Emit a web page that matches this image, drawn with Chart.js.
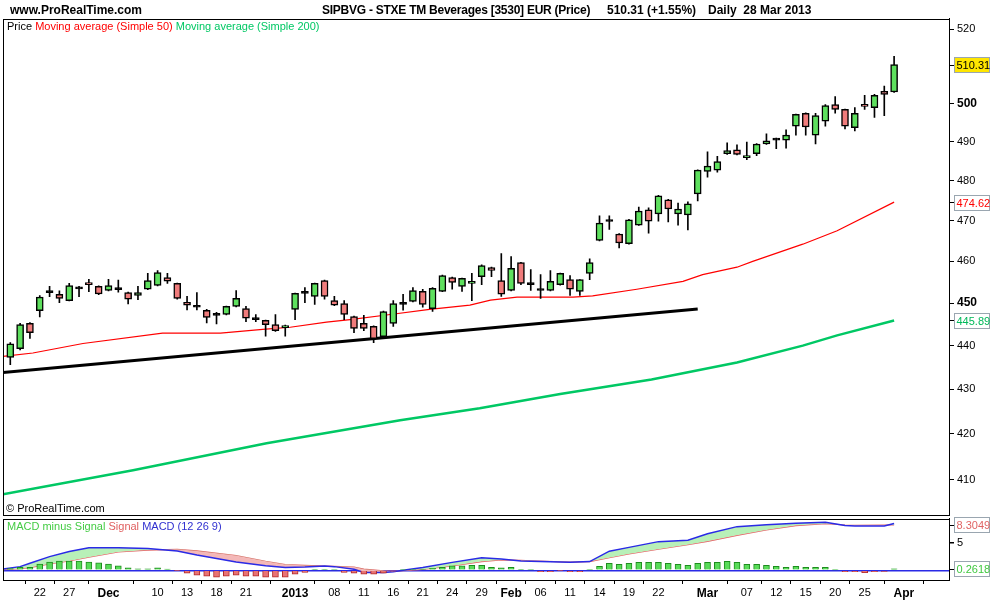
<!DOCTYPE html>
<html><head><meta charset="utf-8">
<script src="https://cdn.jsdelivr.net/npm/chart.js@4.4.1/dist/chart.umd.min.js"></script>
<style>
html,body{margin:0;padding:0;background:#fff;width:1000px;height:600px;overflow:hidden;font-family:'Liberation Sans',Arial,sans-serif;}
#wrap{position:relative;width:1000px;height:600px;}
canvas{position:absolute;left:0;}
.t{position:absolute;white-space:pre;color:#000;line-height:1;}
.b{font-weight:bold;font-size:12px;top:4px;}
.s{font-size:11px;}
</style></head><body>
<div id="wrap">
<canvas id="price" width="1000" height="530" style="top:0"></canvas>
<canvas id="macd" width="1000" height="100" style="top:500px"></canvas>
<div class="t b" style="left:10px">www.ProRealTime.com</div>
<div class="t b" style="left:322px;letter-spacing:-0.25px">SIPBVG - STXE TM Beverages [3530] EUR (Price)</div>
<div class="t b" style="left:607px">510.31 (+1.55%)</div>
<div class="t b" style="left:708px">Daily  28 Mar 2013</div>
<div class="t s" style="left:7px;top:21px"><span>Price</span> <span style="color:#ff0000">Moving average (Simple 50)</span> <span style="color:#00c864">Moving average (Simple 200)</span></div>
<div class="t s" style="left:6px;top:503px">© ProRealTime.com</div>
<div class="t s" style="left:7px;top:521px"><span style="color:#44cc44">MACD minus Signal</span> <span style="color:#e06060">Signal</span> <span style="color:#3030d0">MACD (12 26 9)</span></div>
</div>
<script>
// ---- categories (trading days) ----
const dates = ['19 Nov','20 Nov','21 Nov','22 Nov','23 Nov','26 Nov','27 Nov','28 Nov','29 Nov','30 Nov',
'03 Dec','04 Dec','05 Dec','06 Dec','07 Dec','10 Dec','11 Dec','12 Dec','13 Dec','14 Dec','17 Dec','18 Dec','19 Dec','20 Dec','21 Dec','24 Dec','27 Dec','28 Dec','31 Dec',
'02 Jan','03 Jan','04 Jan','07 Jan','08 Jan','09 Jan','10 Jan','11 Jan','14 Jan','15 Jan','16 Jan','17 Jan','18 Jan','21 Jan','22 Jan','23 Jan','24 Jan','25 Jan','28 Jan','29 Jan','30 Jan','31 Jan',
'01 Feb','04 Feb','05 Feb','06 Feb','07 Feb','08 Feb','11 Feb','12 Feb','13 Feb','14 Feb','15 Feb','18 Feb','19 Feb','20 Feb','21 Feb','22 Feb','25 Feb','26 Feb','27 Feb','28 Feb',
'01 Mar','04 Mar','05 Mar','06 Mar','07 Mar','08 Mar','11 Mar','12 Mar','13 Mar','14 Mar','15 Mar','18 Mar','19 Mar','20 Mar','21 Mar','22 Mar','25 Mar','26 Mar','27 Mar','28 Mar'];

// ---- price series ----
const openP = [437.3,439.3,445.2,448.2,452.5,452.1,450.6,453.4,454.9,454.0,
453.0,453.2,452.5,451.8,453.3,454.2,456.1,454.7,450.2,449.0,
448.3,447.1,447.3,449.2,448.7,446.1,445.9,444.9,444.2,448.5,
452.3,451.6,455.4,450.6,449.9,446.8,445.2,444.5,442.1,445.2,
449.7,450.4,452.8,448.7,452.8,456.1,454.0,454.7,456.3,458.5,
455.4,453.0,459.7,454.4,453.0,453.0,454.4,455.6,452.8,457.1,
465.1,469.8,466.7,464.3,468.9,472.7,471.7,475.2,471.7,471.4,
476.7,482.4,482.7,486.9,487.9,485.9,486.9,489.4,490.4,490.4,
494.0,497.4,491.7,495.3,499.7,498.4,493.6,499.7,498.9,503.2,
503.0];
const highP = [440.7,445.2,445.4,451.8,454.0,452.9,454.7,454.0,455.7,454.1,
455.7,455.5,452.6,454.0,457.1,457.8,457.1,454.8,451.6,452.5,
448.5,447.8,449.3,453.0,449.2,447.3,446.0,447.3,444.8,452.4,
453.7,454.8,455.5,451.6,450.6,446.9,447.1,444.6,448.1,450.6,
452.1,453.7,453.3,453.7,456.7,456.2,456.0,457.1,459.2,458.6,
461.9,461.2,459.8,458.0,456.8,457.8,457.2,456.6,455.6,460.6,
471.2,471.2,466.8,470.3,473.4,473.2,476.3,475.3,474.4,474.7,
482.8,487.4,486.2,489.7,489.2,489.9,489.5,492.0,490.9,493.1,
497.2,497.5,497.4,499.7,501.8,498.5,498.9,502.1,502.4,504.6,
512.6];
const lowP = [435.6,439.0,441.7,446.7,451.5,450.1,450.5,451.5,452.7,452.0,
452.9,452.6,449.8,450.8,453.2,454.1,454.7,450.9,448.4,448.4,
445.3,445.1,447.2,449.1,445.6,445.6,442.2,443.3,442.2,446.1,
450.1,449.7,450.9,449.4,446.1,443.0,443.5,440.7,441.8,444.5,
448.3,450.3,449.0,448.0,452.7,453.3,452.8,450.6,454.4,456.3,
451.6,452.9,454.4,453.0,451.1,452.9,454.3,451.8,451.8,455.6,
465.0,467.8,463.3,464.2,468.8,466.9,469.9,469.7,468.9,467.7,
474.9,480.9,482.2,486.7,486.6,485.4,486.4,489.3,488.2,488.3,
491.7,491.7,489.4,494.0,497.4,493.3,492.8,498.4,496.3,496.8,
502.9];
const closeP = [440.4,444.9,443.0,451.4,452.5,451.1,454.2,453.4,454.4,452.2,
454.2,453.2,450.9,452.5,455.4,457.3,455.2,451.1,449.5,449.0,
446.6,447.1,449.2,451.1,446.4,446.1,444.9,443.5,444.7,452.3,
452.3,454.7,451.6,449.5,447.3,444.0,444.0,441.6,448.0,449.9,
449.7,453.0,449.7,453.5,456.6,454.9,455.9,455.2,459.0,457.8,
452.1,458.3,454.7,454.4,453.0,455.2,457.1,453.3,455.6,459.7,
469.4,469.8,464.5,470.2,472.4,469.9,476.2,472.9,472.9,474.2,
482.7,483.7,484.9,487.7,486.7,486.4,489.4,490.2,490.4,491.7,
497.1,493.8,496.8,499.4,498.4,494.0,497.4,499.2,502.1,502.4,
510.31];

// moving averages read at points (x = trading-day index)
const ma50X = [-0.74,2.3,7.4,15.5,21.4,25.7,28.5,32.2,34.6,38.7,42.7,46.8,48.9,51.6,57.3,59.3,63.8,68.5,70.5,74,75.6,80.7,84.2,90];
const ma50Y = [437.5,438.3,440.5,442.9,442.9,443.8,444.3,445.5,446.1,447.3,448.5,449.5,450.7,451.4,451.4,451.7,453.3,455.2,456.8,458.6,460.0,464.2,467.5,474.62];
const ma200X = [-0.74,12.5,26.1,39.7,47.8,56,65.3,74,80.7,84.2,90];
const ma200Y = [406.8,412.0,417.9,423.0,425.7,428.9,432.2,436.1,440.0,442.4,445.89];
const trendX = [-0.74,70];
const trendY = [433.8,448.6];

// MACD panel
const histV = [0.3,0.55,0.55,1.16,1.5,1.7,1.7,1.7,1.5,1.35,
1.16,0.8,0.43,0.25,0.25,0.43,0.2,-0.05,-0.55,-0.9,
-1.1,-1.28,-1.1,-0.9,-1.1,-1.1,-1.28,-1.28,-1.28,-0.73,
-0.37,0.18,0.18,0.05,-0.37,-0.55,-0.73,-0.73,-0.55,-0.15,
0.05,0.18,0.18,0.37,0.55,0.8,0.8,0.9,0.9,0.55,
0.43,0.55,0.18,0.05,-0.25,-0.25,-0.05,-0.25,-0.25,0.05,
0.73,1.28,1.1,1.28,1.46,1.46,1.46,1.28,1.1,0.9,
1.28,1.46,1.46,1.65,1.46,1.1,1.1,0.9,0.73,0.55,
0.73,0.55,0.55,0.55,0.05,-0.25,-0.25,-0.43,-0.25,-0.2,
0.2618];
const macdX = [-0.74,1,2,4,6,8,11,14,17,19,23,26,28,30,32,33,35,36,38,39,40,42,45,48,50,52,53,57,59,61,63,66,69,71,74,77,80,83,85,86,89,90];
const macdV = [0.25,0.67,1.3,2.5,3.45,4.15,4.15,4.0,3.55,2.8,1.5,0.85,0.5,0.6,0.8,0.67,0.18,-0.4,-0.4,-0.25,0.0,0.5,1.45,2.3,2.07,1.72,1.65,1.45,1.6,3.5,4.2,5.25,5.5,6.7,8.0,8.35,8.6,8.8,8.2,8.1,8.1,8.57];
const signalV = [0.12,0.3,0.5,1.16,1.7,2.4,3.35,3.7,3.84,3.55,2.7,1.65,1.05,0.9,0.75,0.7,0.6,0.2,-0.1,-0.15,-0.05,0.15,0.8,1.6,1.9,1.8,1.75,1.5,1.6,2.3,3.0,3.85,4.7,5.3,6.4,7.4,8.2,8.55,8.3,8.25,8.3,8.3049];

// tick labels
const priceTicks = [410,420,430,440,450,460,470,480,490,500,510,520];
const boldPriceTicks = [450,500];
const xTickIdx = [3,6,10,15,18,21,24,29,33,36,39,42,45,48,51,54,57,60,63,66,71,75,78,81,84,87,91];
const xTickLabels = ['22','27','Dec','10','13','18','21','2013','08','11','16','21','24','29','Feb','06','11','14','19','22','Mar','07','12','15','20','25','Apr'];
const boldXLabels = ['Dec','2013','Feb','Mar','Apr'];

// ---------------------------------------------------------------
Chart.defaults.font.family = "'Liberation Sans', Arial, sans-serif";
Chart.defaults.color = '#000';
const X_MIN = -0.743, X_MAX = 95.59;
const idx = dates.map((_, i) => i);
const GREEN = '#5ee05e', RED = '#f07c7c';

function box(ctx, area, y, text, color, bg) {
  ctx.save();
  ctx.strokeStyle = '#000'; ctx.lineWidth = 1;
  ctx.beginPath(); ctx.moveTo(area.right, Math.round(y) + 0.5); ctx.lineTo(area.right + 5, Math.round(y) + 0.5); ctx.stroke();
  const top = Math.round(y - 7.5) + 0.5;
  ctx.fillStyle = bg; ctx.fillRect(954.5, top, 35, 15);
  ctx.strokeStyle = '#9aa6b0'; ctx.strokeRect(954.5, top, 35, 15);
  ctx.fillStyle = color; ctx.font = "11px 'Liberation Sans', Arial, sans-serif";
  ctx.textBaseline = 'middle'; ctx.textAlign = 'left';
  ctx.fillText(text, 956.5, top + 8);
  ctx.restore();
}
function frame(ctx, a) {
  ctx.save(); ctx.strokeStyle = '#000'; ctx.lineWidth = 1;
  ctx.strokeRect(Math.round(a.left) + 0.5, Math.round(a.top) + 0.5, Math.round(a.right) - Math.round(a.left), Math.round(a.bottom) - Math.round(a.top));
  ctx.restore();
}

new Chart(document.getElementById('price'), {
  type: 'bar',
  data: { datasets: [
    { type: 'bar', label: 'Price', data: idx.map(i => ({ x: i, y: [openP[i], closeP[i]] })),
      backgroundColor: c => { const i = c.dataIndex; if (i === undefined) return GREEN; return closeP[i] > openP[i] ? GREEN : (closeP[i] < openP[i] ? RED : '#000'); },
      borderColor: '#000', borderWidth: 1.5, borderSkipped: false, barThickness: 7, minBarLength: 2, grouped: false, order: 0 },
    { type: 'bar', label: 'Range', data: idx.map(i => ({ x: i, y: [lowP[i], highP[i]] })),
      backgroundColor: '#000', barThickness: 1, grouped: false, order: 1 },
    { type: 'line', label: 'Moving average (Simple 50)', data: ma50X.map((x, k) => ({ x, y: ma50Y[k] })),
      borderColor: '#ff0000', borderWidth: 1.2, pointRadius: 0, tension: 0, order: 2 },
    { type: 'line', label: 'Moving average (Simple 200)', data: ma200X.map((x, k) => ({ x, y: ma200Y[k] })),
      borderColor: '#00c864', borderWidth: 2.5, pointRadius: 0, tension: 0, order: 3 },
    { type: 'line', label: 'Trend line', data: trendX.map((x, k) => ({ x, y: trendY[k] })),
      borderColor: '#000', borderWidth: 3, pointRadius: 0, tension: 0, order: 4 }
  ]},
  options: {
    responsive: false, animation: false, events: [],
    layout: { padding: { left: 3, top: 18.5, right: 0, bottom: 15.5 } },
    plugins: { legend: { display: false }, tooltip: { enabled: false } },
    scales: {
      x: { type: 'linear', min: X_MIN, max: X_MAX, offset: false, display: false },
      y: { type: 'logarithmic', position: 'right', min: 402.5, max: 522.9,
        afterBuildTicks: s => { s.ticks = priceTicks.map(v => ({ value: v })); },
        afterFit: s => { s.width = 51; s.paddingTop = 0; s.paddingBottom = 0; },
        ticks: { autoSkip: false, padding: 3, color: '#000', callback: v => String(v),
          font: c => (c.tick && boldPriceTicks.includes(c.tick.value)) ? { size: 12, weight: 'bold' } : { size: 11, weight: 'normal' } },
        grid: { drawOnChartArea: false, drawTicks: true, tickLength: 5, color: '#000' },
        border: { display: true, color: '#000', width: 1 } }
    }
  },
  plugins: [{ id: 'priceDeco', afterDraw(chart) {
    const { ctx, chartArea: a, scales: { y } } = chart;
    frame(ctx, a);
    box(ctx, a, y.getPixelForValue(ma50Y[ma50Y.length - 1]), ma50Y[ma50Y.length - 1].toFixed(2), '#ff0000', '#fff');
    box(ctx, a, y.getPixelForValue(ma200Y[ma200Y.length - 1]), ma200Y[ma200Y.length - 1].toFixed(2), '#00b85a', '#fff');
    box(ctx, a, y.getPixelForValue(closeP[closeP.length - 1]), closeP[closeP.length - 1].toFixed(2), '#000', '#ffe600');
  }}]
});

new Chart(document.getElementById('macd'), {
  type: 'bar',
  data: { datasets: [
    { type: 'bar', label: 'MACD minus Signal', data: idx.map(i => ({ x: i, y: histV[i] })),
      backgroundColor: c => (c.raw && c.raw.y < 0) ? '#e87474' : '#58dc58',
      borderColor: c => (c.raw && c.raw.y < 0) ? '#b02828' : '#1e8c1e',
      borderWidth: 1, barThickness: 6, grouped: false, order: 0 },
    { type: 'line', label: 'MACD (12 26 9)', data: macdX.map((x, k) => ({ x, y: macdV[k] })),
      borderColor: '#2a2ae6', borderWidth: 1.5, pointRadius: 0, tension: 0,
      fill: { target: 2, above: '#b8f0b8', below: '#f4b8b8' }, order: 1 },
    { type: 'line', label: 'Signal', data: macdX.map((x, k) => ({ x, y: signalV[k] })),
      borderColor: '#e06464', borderWidth: 1.2, pointRadius: 0, tension: 0, fill: false, order: 2 }
  ]},
  options: {
    responsive: false, animation: false, events: [],
    layout: { padding: { left: 3, top: 18.5, right: 0, bottom: 0 } },
    plugins: { legend: { display: false }, tooltip: { enabled: false } },
    scales: {
      x: { type: 'linear', min: X_MIN, max: X_MAX, offset: false, position: 'bottom',
        afterBuildTicks: s => { s.ticks = xTickIdx.map(v => ({ value: v })); },
        afterFit: s => { s.height = 20; s.paddingLeft = 0; s.paddingRight = 0; },
        ticks: { autoSkip: false, maxRotation: 0, minRotation: 0, padding: 2, color: '#000',
          callback: (v, i) => xTickLabels[i],
          font: c => boldXLabels.includes(xTickLabels[c.index]) ? { size: 12, weight: 'bold' } : { size: 11, weight: 'normal' } },
        grid: { drawOnChartArea: false, drawTicks: true, tickLength: 4, color: '#000' },
        border: { display: true, color: '#000' } },
      y: { type: 'linear', position: 'right', min: -1.78, max: 9.49,
        afterBuildTicks: s => { s.ticks = [{ value: 0 }, { value: 5 }]; },
        afterFit: s => { s.width = 51; s.paddingTop = 0; s.paddingBottom = 0; },
        ticks: { autoSkip: false, padding: 3, color: '#000', font: { size: 11 }, callback: v => v === 5 ? '5' : '' },
        grid: { drawOnChartArea: true, tickLength: 5,
          color: c => (c.tick && c.tick.value === 0) ? '#2a2ae6' : 'rgba(0,0,0,0)',
          tickColor: c => (c.tick && c.tick.value === 5) ? '#000' : 'rgba(0,0,0,0)',
          lineWidth: 1.5 },
        border: { display: true, color: '#000' } }
    }
  },
  plugins: [{ id: 'macdDeco', afterDraw(chart) {
    const { ctx, chartArea: a, scales: { y } } = chart;
    frame(ctx, a);
    const s = signalV[signalV.length - 1], h = histV[histV.length - 1];
    box(ctx, a, y.getPixelForValue(s), s.toFixed(4), '#e06464', '#fff');
    box(ctx, a, y.getPixelForValue(h), h.toFixed(4), '#40c840', '#fff');
  }}]
});
</script>
</body></html>
